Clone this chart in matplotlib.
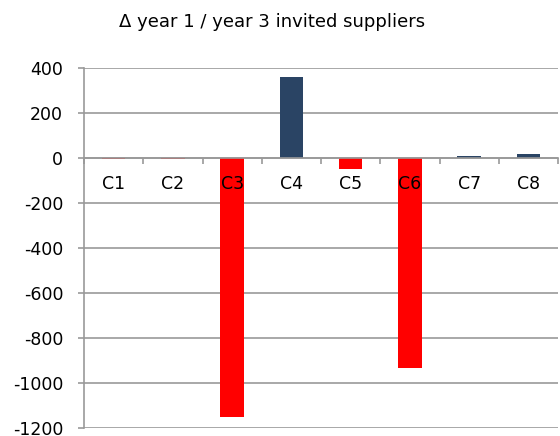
import numpy as np
import matplotlib.pyplot as plt

categories = ['C1', 'C2', 'C3', 'C4', 'C5', 'C6', 'C7', 'C8']
delta = [-3, -3, -1150, 360, -50, -935, 11, 16]
y_ticks = [400, 200, 0, -200, -400, -600, -800, -1000, -1200]

pos_color = '#2a4464'
neg_color = '#ff0000'
grid_color = '#999999'

fig = plt.figure(figsize=(5.6, 4.36), dpi=100)
ax = fig.add_axes([84 / 560, 8 / 436, 474 / 560, 360 / 436])

x = np.arange(len(categories))
colors = [pos_color if v >= 0 else neg_color for v in delta]
ax.bar(x, delta, width=0.4, color=colors, zorder=3)

ax.set_xlim(-0.5, len(categories) - 0.5)
ax.set_ylim(-1200, 400)
ax.set_yticks(y_ticks)
ax.set_yticklabels([str(v) for v in y_ticks], fontsize=12.5)
ax.yaxis.grid(True, color=grid_color, linewidth=1.2, zorder=0)

# category axis sits on the zero line
ax.spines['bottom'].set_position(('data', 0))
ax.spines['bottom'].set_color(grid_color)
ax.spines['bottom'].set_linewidth(1.2)
ax.spines['bottom'].set_zorder(4)
ax.spines['left'].set_color(grid_color)
ax.spines['left'].set_linewidth(1.2)
ax.spines['top'].set_visible(False)
ax.spines['right'].set_visible(False)

ax.set_xticks(np.arange(len(categories) + 1) - 0.5)
ax.set_xticklabels([])
ax.tick_params(axis='x', which='major', direction='out', length=4, color=grid_color, width=1.2)
ax.tick_params(axis='y', direction='out', length=4, color=grid_color, width=1.2, pad=11)

# category labels drawn on top of the bars
for i, name in enumerate(categories):
    ax.annotate(name, xy=(i, 0), xytext=(0, -19), textcoords='offset points',
                ha='center', va='center', fontsize=12.5, zorder=6, annotation_clip=False)

fig.text(0.486, 1 - 22 / 436, '\u0394 year 1 / year 3 invited suppliers', ha='center', va='center', fontsize=13)

fig.savefig('out.png', dpi=100)
